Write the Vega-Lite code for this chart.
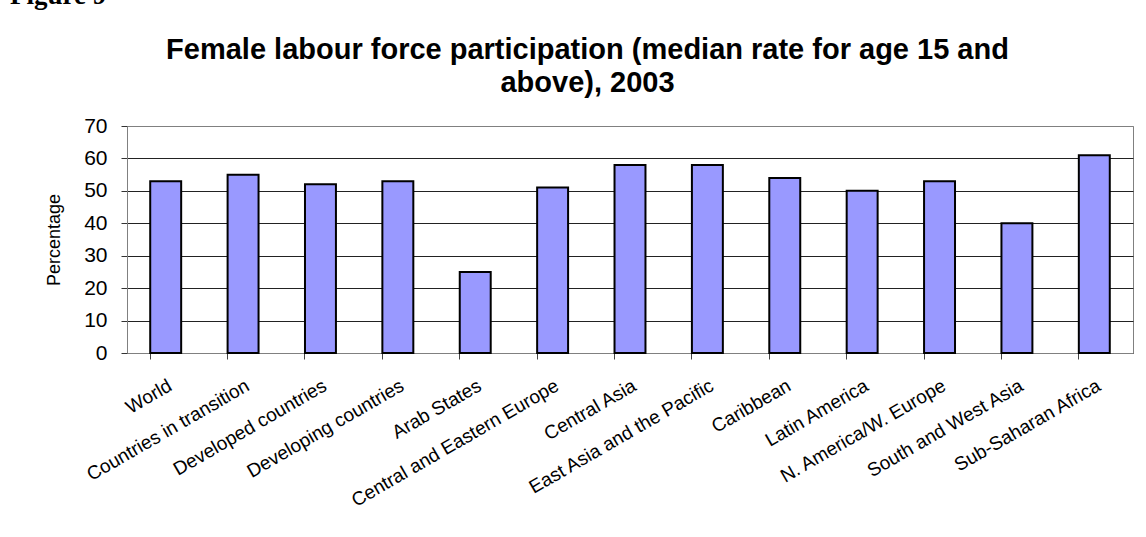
{
  "$schema": "https://vega.github.io/schema/vega-lite/v6.json",
  "width": 1006,
  "height": 227,
  "autosize": {"type": "none"},
  "padding": {"left": 127, "top": 126, "right": 13, "bottom": 184},
  "background": "white",
  "title": {
    "text": "Figure 9",
    "font": "Liberation Serif",
    "fontSize": 27,
    "fontWeight": "bold",
    "color": "black",
    "anchor": "start",
    "frame": "group",
    "dx": -117,
    "baseline": "alphabetic",
    "offset": 4
  },
  "data": {
    "values": [
      {"region": "World", "rate": 53},
      {"region": "Countries in transition", "rate": 55},
      {"region": "Developed countries", "rate": 52},
      {"region": "Developing countries", "rate": 53},
      {"region": "Arab States", "rate": 25},
      {"region": "Central and Eastern Europe", "rate": 51},
      {"region": "Central Asia", "rate": 58},
      {"region": "East Asia and the Pacific", "rate": 58},
      {"region": "Caribbean", "rate": 54},
      {"region": "Latin America", "rate": 50},
      {"region": "N. America/W. Europe", "rate": 53},
      {"region": "South and West Asia", "rate": 40},
      {"region": "Sub-Saharan Africa", "rate": 61}
    ]
  },
  "config": {
    "view": {"stroke": "#808080", "strokeWidth": 1},
    "axis": {"labelFont": "Liberation Sans", "titleFont": "Liberation Sans", "labelColor": "black", "titleColor": "black"}
  },
  "layer": [
    {
      "mark": {"type": "bar", "fill": "#9999FF", "stroke": "black", "strokeWidth": 2},
      "encoding": {
        "x": {
          "field": "region",
          "type": "nominal",
          "sort": null,
          "scale": {"paddingInner": 0.6, "paddingOuter": 0.3},
          "axis": {
            "orient": "bottom",
            "title": null,
            "domain": false,
            "ticks": false,
            "tickSize": 0,
            "grid": false,
            "labelAngle": -30,
            "labelAlign": "right",
            "labelBaseline": "top",
            "labelPadding": 23,
            "labelFontSize": 19,
            "labelOverlap": false,
            "labelLimit": 400
          }
        },
        "y": {
          "field": "rate",
          "type": "quantitative",
          "scale": {"domain": [0, 70], "nice": false},
          "axis": {
            "title": "Percentage",
            "titleFontSize": 18,
            "titleFontWeight": "normal",
            "titlePadding": 20,
            "values": [0, 10, 20, 30, 40, 50, 60, 70],
            "labelFontSize": 21,
            "labelPadding": 14,
            "tickSize": 6,
            "tickColor": "#333333",
            "domainColor": "#808080",
            "grid": true,
            "gridColor": {"condition": {"test": "datum.value == 70", "value": "#808080"}, "value": "#222222"},
            "gridOpacity": 1
          }
        }
      }
    },
    {
      "mark": {"type": "bar", "opacity": 0},
      "encoding": {
        "x": {
          "field": "region",
          "type": "nominal",
          "sort": null,
          "axis": {
            "orient": "bottom",
            "title": null,
            "labels": false,
            "domain": true,
            "domainColor": "#808080",
            "ticks": true,
            "tickSize": 6,
            "tickColor": "#444444",
            "bandPosition": 0,
            "grid": false
          }
        },
        "y": {"field": "rate", "type": "quantitative", "axis": null}
      }
    },
    {
      "mark": {"type": "bar", "opacity": 0},
      "encoding": {
        "x": {
          "field": "region",
          "type": "nominal",
          "sort": null,
          "axis": {
            "orient": "top",
            "title": ["Female labour force participation (median rate for age 15 and", "above), 2003"],
            "titleFont": "Liberation Sans",
            "titleFontSize": 29,
            "titleFontWeight": "bold",
            "titleLineHeight": 33,
            "titleX": 460,
            "titleAlign": "center",
            "titlePadding": 29,
            "labels": false,
            "ticks": false,
            "domain": false,
            "grid": false
          }
        },
        "y": {"field": "rate", "type": "quantitative", "axis": null}
      }
    }
  ],
  "resolve": {"axis": {"x": "independent", "y": "independent"}}
}
